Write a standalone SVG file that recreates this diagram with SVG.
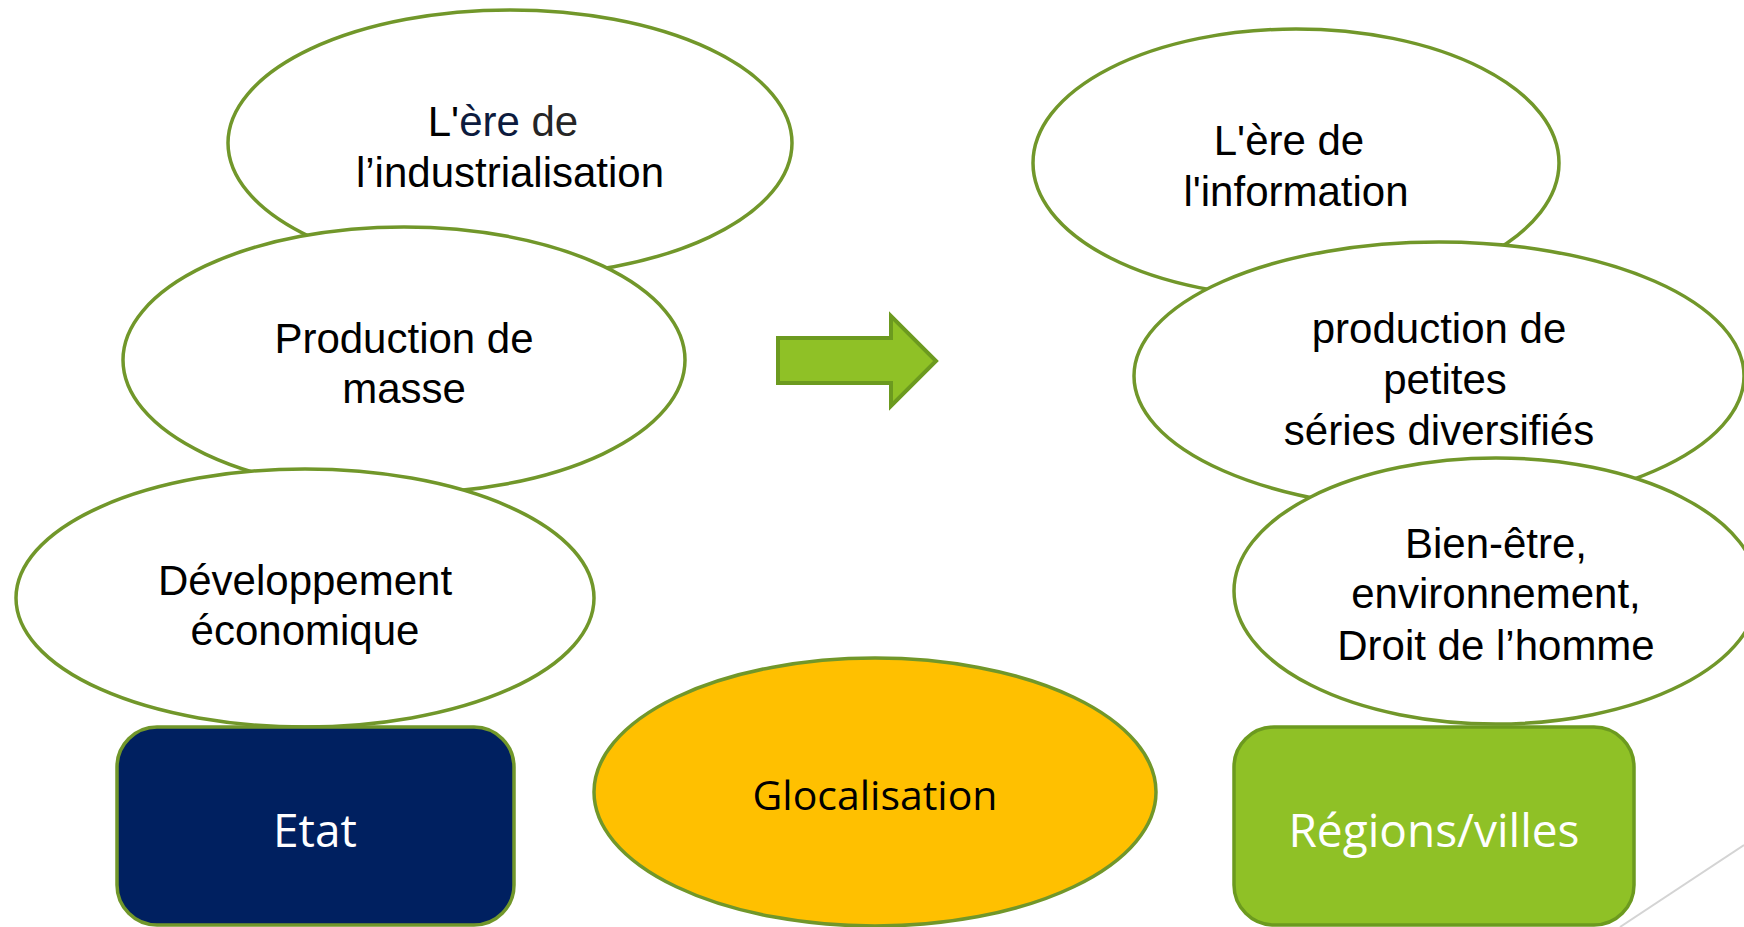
<svg xmlns="http://www.w3.org/2000/svg" width="1744" height="927" viewBox="0 0 1744 927">
<style>
.ell{fill:#ffffff;stroke:#71972a;stroke-width:3.5}
.txt{font-family:"Liberation Sans",Arial,sans-serif;font-size:42px;fill:#000000;text-anchor:middle}
.box{font-family:"Open Sans","Noto Sans",sans-serif;font-size:46px;text-anchor:middle}
</style>
<rect x="0" y="0" width="1744" height="927" fill="#ffffff"/>
<g id="decor">
<line x1="1744" y1="845" x2="1620" y2="927" stroke="#d4d4d4" stroke-width="2"/>
</g>
<g id="n-industrialisation">
<ellipse class="ell" cx="510" cy="143" rx="282" ry="133"/>
<text class="txt" x="503" y="136"><tspan fill="#000000">L'</tspan><tspan fill="#0d1b3e">ère</tspan><tspan fill="#262626"> de</tspan></text>
<text class="txt" x="510" y="187">l’industrialisation</text>
</g>
<g id="n-production-masse">
<ellipse class="ell" cx="404" cy="360" rx="281" ry="133"/>
<text class="txt" x="404" y="353">Production de</text>
<text class="txt" x="404" y="403">masse</text>
</g>
<g id="n-developpement">
<ellipse class="ell" cx="305" cy="598" rx="289" ry="129"/>
<text class="txt" x="305" y="595">Développement</text>
<text class="txt" x="305" y="645">économique</text>
</g>
<g id="n-etat">
<rect x="117" y="727" width="397" height="198" rx="40" ry="40" fill="#002060" stroke="#71972a" stroke-width="3.5"/>
<text class="box" x="315" y="847" fill="#ffffff">Etat</text>
</g>
<g id="n-glocalisation">
<ellipse cx="875" cy="792" rx="281" ry="134" fill="#ffc000" stroke="#71972a" stroke-width="3.5"/>
<text class="box" x="875" y="810" fill="#000000" style="font-size:41px">Glocalisation</text>
</g>
<g id="n-information">
<ellipse class="ell" cx="1296" cy="163" rx="263" ry="134"/>
<text class="txt" x="1289" y="155">L'ère de</text>
<text class="txt" x="1296" y="206">l'information</text>
</g>
<g id="n-petites-series">
<ellipse class="ell" cx="1439" cy="376" rx="305" ry="134"/>
<text class="txt" x="1439" y="343">production de</text>
<text class="txt" x="1445" y="394">petites</text>
<text class="txt" x="1439" y="445">séries diversifiés</text>
</g>
<g id="n-bienetre">
<ellipse class="ell" cx="1496" cy="591" rx="262" ry="133"/>
<text class="txt" x="1496" y="558">Bien-être,</text>
<text class="txt" x="1496" y="608">environnement,</text>
<text class="txt" x="1496" y="660">Droit de l’homme</text>
</g>
<g id="n-regions">
<rect x="1234" y="727" width="400" height="198" rx="40" ry="40" fill="#8fc126" stroke="#6c9a1f" stroke-width="3.5"/>
<text class="box" x="1434" y="847" fill="#ffffff">Régions/villes</text>
</g>
<g id="connectors">
<path d="M778 338 H891 V316 L936 361 L891 406 V383 H778 Z" fill="#8fc126" stroke="#6c9a1f" stroke-width="4" stroke-linejoin="miter"/>
</g>
</svg>
